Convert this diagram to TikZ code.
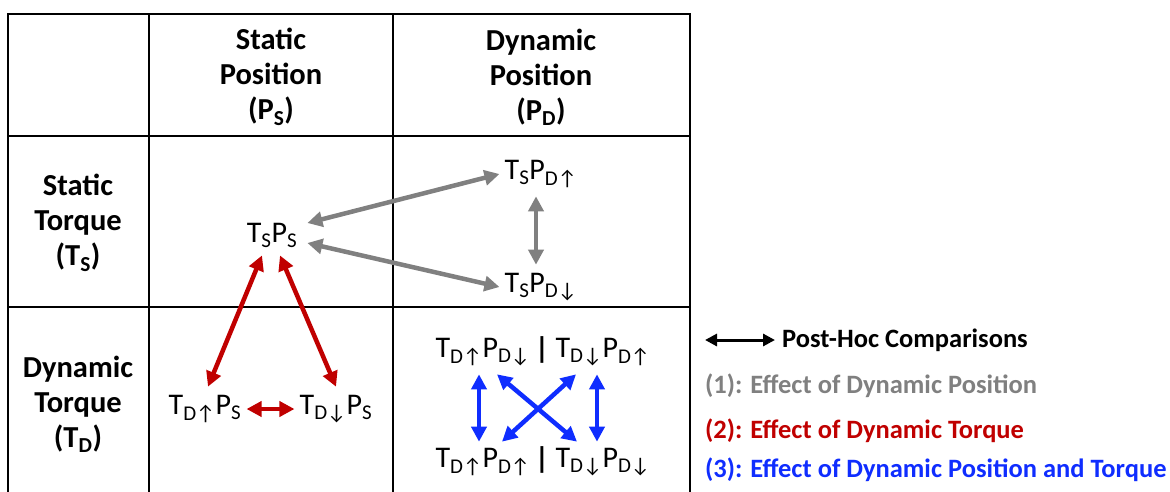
\documentclass[tikz,border=0pt]{standalone}
\usepackage{fontspec}
\setmainfont{Carlito}
\usetikzlibrary{arrows.meta}
\definecolor{cmpgray}{RGB}{128,128,128}
\definecolor{cmpred}{RGB}{192,0,0}
\definecolor{cmpblue}{RGB}{15,45,255}
\newcommand{\sbs}[1]{\textsubscript{#1}}
\newcommand{\su}{↑}
\newcommand{\sd}{↓}

\begin{document}
\begin{tikzpicture}[
    x=1pt, y=-1pt,
    grid/.style={line width=2pt, line cap=rect},
    hdr/.style={font=\fontsize{30.5}{35}\selectfont\bfseries, align=center},
    cond/.style={font=\fontsize{30}{35}\selectfont, inner sep=0pt},
    cmp/.style={{Triangle[length=15pt,width=15pt]}-{Triangle[length=15pt,width=15pt]}, line width=4.5pt},
    key/.style={font=\fontsize{26.5}{30}\selectfont\bfseries, anchor=west, inner sep=0pt}
]
\useasboundingbox (0,0) rectangle (1170,491);

% table
\draw[grid] (8,491) -- (8,14) -- (690,14) -- (690,491);
\draw[grid] (149,14) -- (149,491);
\draw[grid] (393,14) -- (393,491);
\draw[grid] (8,136) -- (690,136);
\draw[grid] (8,307) -- (690,307);

% headers
\node[hdr] (hps) at (271,77) {Static\\Position\\(P\sbs{S})};
\node[hdr] (hpd) at (541,77) {Dynamic\\Position\\(P\sbs{D})};
\node[hdr] (hts) at (78,223) {Static\\Torque\\(T\sbs{S})};
\node[hdr] (htd) at (78,404) {Dynamic\\Torque\\(T\sbs{D})};

% conditions
\node[cond] (tsps) at (272,235) {T\sbs{S}P\sbs{S}};
\node[cond] (tspdu) at (541,174) {T\sbs{S}P\sbs{D\su}};
\node[cond] (tspdd) at (541,287) {T\sbs{S}P\sbs{D\sd}};
\node[cond] (tdups) at (205,409) {T\sbs{D\su}P\sbs{S}};
\node[cond] (tddps) at (336,409) {T\sbs{D\sd}P\sbs{S}};
\node[cond] (tduddd) at (483,352) {T\sbs{D\su}P\sbs{D\sd}};
\node[cond] (bar1) at (542,350) {\textbf{|}};
\node[cond] (tdddu) at (603,352) {T\sbs{D\sd}P\sbs{D\su}};
\node[cond] (tdudu) at (483,462) {T\sbs{D\su}P\sbs{D\su}};
\node[cond] (bar2) at (542,460) {\textbf{|}};
\node[cond] (tdddd) at (603,462) {T\sbs{D\sd}P\sbs{D\sd}};

% (1) dynamic position
\draw[cmp, cmpgray] ([shift={(10,-12)}]tsps.east) -- ([shift={(-5,0)}]tspdu.west);
\draw[cmp, cmpgray] ([shift={(10,8)}]tsps.east) -- ([shift={(-5,0)}]tspdd.west);
\draw[cmp, cmpgray] ([shift={(-5,8)}]tspdu.south) -- ([shift={(-5,-8)}]tspdd.north);

% (2) dynamic torque
\draw[cmp, cmpred] ([shift={(-10,8)}]tsps.south) -- ([shift={(3,-8)}]tdups.north);
\draw[cmp, cmpred] ([shift={(8,8)}]tsps.south) -- ([shift={(0,-8)}]tddps.north);
\draw[cmp, cmpred] ([shift={(5,0)}]tdups.east) -- ([shift={(-5,0)}]tddps.west);

% (3) dynamic position and torque
\draw[cmp, cmpblue] ([shift={(-4,8)}]tduddd.south) -- ([shift={(-4,-6)}]tdudu.north);
\draw[cmp, cmpblue] ([shift={(-6,8)}]tdddu.south) -- ([shift={(-6,-6)}]tdddd.north);
\draw[cmp, cmpblue] ([shift={(14,8)}]tduddd.south) -- ([shift={(-26,-6)}]tdddd.north);
\draw[cmp, cmpblue] ([shift={(-27,8)}]tdddu.south) -- ([shift={(19,-6)}]tdudu.north);

% legend
\coordinate (k0) at (705,340);
\coordinate (k1) at (775,340);
\draw[{Triangle[length=12pt,width=12pt]}-{Triangle[length=12pt,width=12pt]}, line width=3pt] (k0) -- (k1);
\node[key] (kph) at (782,340) {Post-Hoc Comparisons};
\node[key, cmpgray] (kdp) at (705,386) {(1): Effect of Dynamic Position};
\node[key, cmpred] (kdt) at (705,431) {(2): Effect of Dynamic Torque};
\node[key, cmpblue] (kdb) at (705,470) {(3): Effect of Dynamic Position and Torque};
\end{tikzpicture}
\end{document}
